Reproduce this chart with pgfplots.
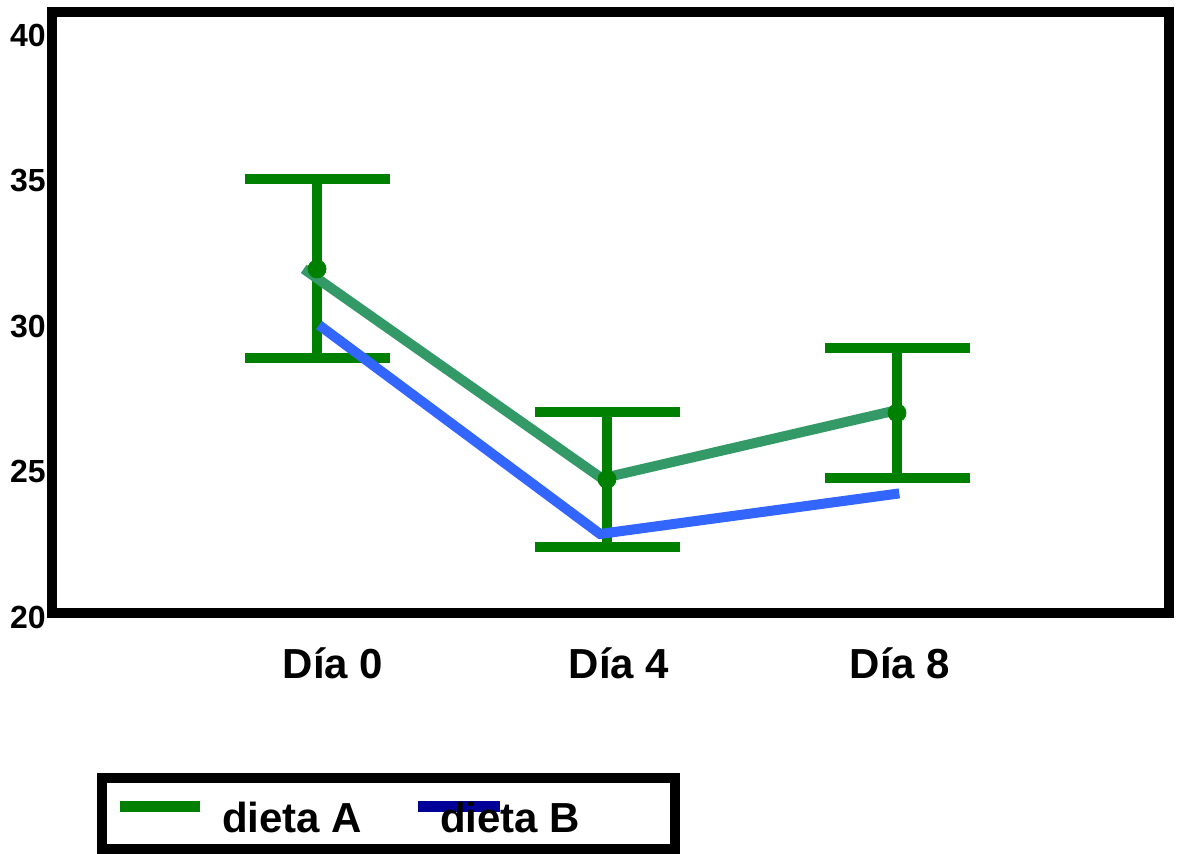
\documentclass[border=0pt]{standalone}
\usepackage{fontspec}
\setmainfont{Liberation Sans}
\usepackage{pgfplots}
\pgfplotsset{compat=1.18}
\definecolor{dgreen}{HTML}{008000}
\definecolor{lgreen}{HTML}{339966}
\definecolor{blueL}{HTML}{3366FF}
\definecolor{navyb}{HTML}{000099}
\begin{document}
\begin{tikzpicture}
\path[use as bounding box] (0,0) rectangle (589bp,427bp);
\begin{axis}[
  at={(26bp,120.5bp)}, anchor=south west,
  scale only axis, width=558.5bp, height=300.5bp,
  xmin=0.086, xmax=3.938, ymin=20, ymax=40,
  axis line style={line width=5bp, line join=miter},
  major tick length=0pt,
  xtick={1.055,2.041,3.01}, xticklabels={Día 0,Día 4,Día 8},
  ytick={20,25,30,35,40},
  /pgf/number format/assume math mode=true,
  xticklabel style={font=\bfseries\fontsize{21bp}{21bp}\selectfont, anchor=base, inner sep=0pt, yshift=-32.5bp},
  yticklabel style={font=\bfseries\fontsize{16bp}{16bp}\selectfont, anchor=east, inner sep=0pt, xshift=-3bp, yshift={-(2+2.4*\ticknum)*1bp}},
  legend columns=2, legend cell align=left,
  legend style={at={(0.0403,-0.2662)}, anchor=north west,
    draw=black, line width=5bp, inner xsep=2.5bp, inner ysep=2.5bp,
    font=\bfseries\fontsize{21bp}{21bp}\selectfont,
    column sep=0pt, row sep=0pt,
    nodes={inner sep=0pt, text height=25bp, text depth=5.5bp, anchor=west}},
]
\addplot[forget plot, only marks, mark=*, mark size=4.5bp, color=dgreen,
  mark options={draw=none, fill=dgreen},
  error bars/.cd, y dir=both, y explicit,
  error bar style={line width=5.25bp, dgreen},
  error mark options={rotate=90, mark size=36.25bp, line width=5bp, dgreen}]
  coordinates {(1,31.45) +- (0,2.98) (2,24.45) +- (0,2.25) (3,26.66) +- (0,2.16)};
\addplot[forget plot, blueL, line width=5bp, line join=miter]
  coordinates {(1.007,29.58) (1.976,22.63) (3.008,23.98)};
\addplot[forget plot, lgreen, line width=5bp, line join=miter]
  coordinates {(0.954,31.45) (1.982,24.48) (3.004,26.76)};
\addlegendimage{legend image code/.code={\path[draw=none,fill=none] (0bp,-1bp) rectangle (57.5bp,1bp); \draw[line width=5.5bp, dgreen] (6.5bp,3.25bp) -- (46.5bp,3.25bp);}}
\addlegendentry{dieta A}
\addlegendimage{legend image code/.code={\path[draw=none,fill=none] (0bp,-1bp) rectangle (39bp,1bp); \draw[overlay, line width=5.5bp, navyb] (28bp,3.25bp) -- (69bp,3.25bp);}}
\addlegendentry{dieta B\kern45bp\null}
\end{axis}
\end{tikzpicture}
\end{document}
